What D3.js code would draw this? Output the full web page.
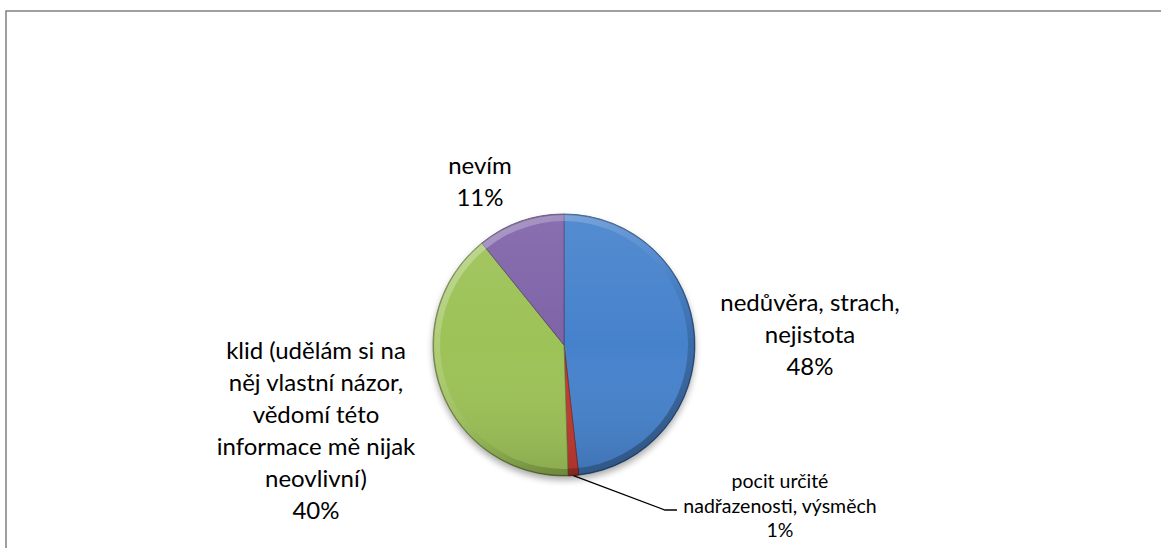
<!DOCTYPE html>
<html>
<head>
<meta charset="utf-8">
<script src="https://cdn.jsdelivr.net/npm/d3@7"></script>
<style>
    body { margin: 0; background: #fff; }
    svg { display: block; }
    .label { font-family: Lato, "Open Sans", sans-serif; fill: #000; }
</style>
</head>
<body>
<script>
//chart data
var categories = [
    "nedůvěra, strach, nejistota",
    "pocit určité nadřazenosti, výsměch",
    "klid (udělám si na něj vlastní názor, vědomí této informace mě nijak neovlivní)",
    "nevím"
];
var values = [48.2, 1.3, 39.7, 10.8];
var colors = ["#4682cc", "#c0392f", "#9dc257", "#7f63a8"];
//label text broken into lines as in the picture
var labelLines = [
    ["nedůvěra, strach,", "nejistota"],
    ["pocit určité", "nadřazenosti, výsměch"],
    ["klid (udělám si na", "něj vlastní názor,", "vědomí této", "informace mě nijak", "neovlivní)"],
    ["nevím"]
];

//layout
var w = 1161, h = 548;
var cx = 564, cy = 345, R = 131;
//label block: center x, first baseline, font size, line height
var labelLayout = [
    {x: 810, y: 311, size: 24, lh: 32},
    {x: 780, y: 488, size: 19.5, lh: 24.5},
    {x: 316, y: 359, size: 24, lh: 32},
    {x: 480, y: 174, size: 24, lh: 32}
];

var svg = d3.select("body")
    .append("svg")
    .attr("width", w)
    .attr("height", h);

var defs = svg.append("defs");

//soft shadow under the pie
var shadow = defs.append("filter")
    .attr("id", "shadow")
    .attr("x", "-20%").attr("y", "-20%")
    .attr("width", "140%").attr("height", "140%");
shadow.append("feGaussianBlur")
    .attr("in", "SourceAlpha")
    .attr("stdDeviation", 3.5);
shadow.append("feOffset")
    .attr("dy", 4)
    .attr("result", "off");
shadow.append("feComponentTransfer")
    .append("feFuncA").attr("type", "linear").attr("slope", 0.35);

//overall light-to-dark shading
var shade = defs.append("linearGradient")
    .attr("id", "shade")
    .attr("x1", 0).attr("y1", 0).attr("x2", 0).attr("y2", 1);
shade.append("stop").attr("offset", "0%").attr("stop-color", "#fff").attr("stop-opacity", 0.08);
shade.append("stop").attr("offset", "50%").attr("stop-color", "#fff").attr("stop-opacity", 0);
shade.append("stop").attr("offset", "100%").attr("stop-color", "#000").attr("stop-opacity", 0.12);

//bevel rim gradient
var rim = defs.append("linearGradient")
    .attr("id", "rim")
    .attr("x1", 0.15).attr("y1", 0.1).attr("x2", 0.85).attr("y2", 0.9);
rim.append("stop").attr("offset", "0%").attr("stop-color", "#fff").attr("stop-opacity", 0.3);
rim.append("stop").attr("offset", "45%").attr("stop-color", "#fff").attr("stop-opacity", 0.05);
rim.append("stop").attr("offset", "60%").attr("stop-color", "#000").attr("stop-opacity", 0.05);
rim.append("stop").attr("offset", "100%").attr("stop-color", "#000").attr("stop-opacity", 0.3);

//chart area border (only top and left edges visible)
svg.append("rect")
    .attr("class", "border")
    .attr("x", 6)
    .attr("y", 11)
    .attr("width", w + 20)
    .attr("height", h + 20)
    .style("fill", "none")
    .style("stroke", "#888")
    .style("stroke-width", 1.6);

var pie = d3.pie()
    .sort(null)
    .value(function(d){ return d; });

var arcs = pie(values);

var arc = d3.arc()
    .innerRadius(0)
    .outerRadius(R);

var pieGroup = svg.append("g")
    .attr("class", "pieGroup")
    .attr("transform", "translate(" + cx + "," + cy + ")");

//shadow disc
pieGroup.append("circle")
    .attr("class", "pieShadow")
    .attr("r", R)
    .style("fill", "#000")
    .attr("filter", "url(#shadow)");

var slices = pieGroup.selectAll(".slices")
    .data(arcs)
    .enter()
    .append("path")
    .attr("class", "slices")
    .attr("d", arc)
    .style("fill", function(d, i){ return colors[i]; })
    .style("stroke", function(d, i){ return d3.color(colors[i]).darker(1.2); })
    .style("stroke-width", 0.8);

//shading overlays
pieGroup.append("circle")
    .attr("class", "pieShade")
    .attr("r", R)
    .style("fill", "url(#shade)");

pieGroup.append("path")
    .attr("class", "pieRim")
    .attr("d", d3.arc().innerRadius(R - 7).outerRadius(R)({startAngle: 0, endAngle: 2 * Math.PI}))
    .style("fill", "url(#rim)");

pieGroup.append("circle")
    .attr("class", "pieEdge")
    .attr("r", R - 0.5)
    .style("fill", "none")
    .style("stroke", "rgba(0,0,0,0.25)")
    .style("stroke-width", 1);

//leader line for the small slice
var small = arcs[1];
var midA = (small.startAngle + small.endAngle) / 2;
var leaderStart = [cx + Math.sin(midA) * R, cy - Math.cos(midA) * R];
var leaderBend = [labelLayout[1].x - 115, labelLayout[1].y + 22];
var leaderEnd = [labelLayout[1].x - 103, labelLayout[1].y + 22];
svg.append("path")
    .attr("class", "leader")
    .attr("d", d3.line()([leaderStart, leaderBend, leaderEnd]))
    .style("fill", "none")
    .style("stroke", "#000")
    .style("stroke-width", 1.3);

var format = d3.format(".0f");

//data labels
var labels = svg.selectAll(".label")
    .data(arcs)
    .enter()
    .append("text")
    .attr("class", "label")
    .attr("text-anchor", "middle")
    .attr("x", function(d, i){ return labelLayout[i].x; })
    .attr("y", function(d, i){ return labelLayout[i].y; })
    .style("font-size", function(d, i){ return labelLayout[i].size + "px"; });

labels.each(function(d, i){
    var t = d3.select(this);
    var lines = labelLines[i].concat([format(d.data) + "%"]);
    lines.forEach(function(line, j){
        t.append("tspan")
            .attr("x", labelLayout[i].x)
            .attr("dy", j === 0 ? 0 : labelLayout[i].lh)
            .text(line);
    });
});
</script>
</body>
</html>
